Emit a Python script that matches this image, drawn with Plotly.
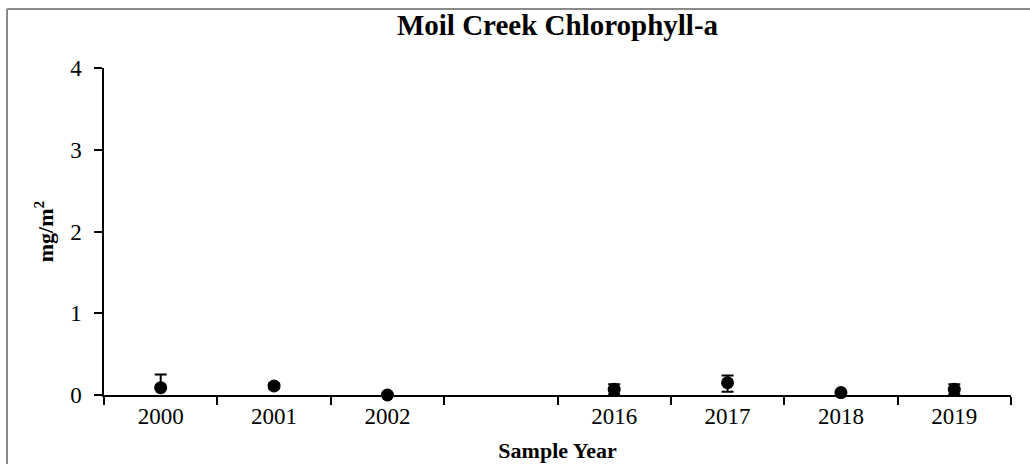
import plotly.graph_objects as go

# Year slots along the horizontal axis (one empty slot between 2002 and 2016)
years = ["2000", "2001", "2002", "", "2016", "2017", "2018", "2019"]

# Mean chlorophyll-a per sampled year (mg/m2) and error bar extents
sample_years = ["2000", "2001", "2002", "2016", "2017", "2018", "2019"]
chl_mean = [0.09, 0.11, 0.00, 0.07, 0.15, 0.03, 0.07]
err_plus = [0.16, 0.03, 0.00, 0.06, 0.09, 0.02, 0.06]
err_minus = [0.00, 0.03, 0.00, 0.06, 0.11, 0.02, 0.06]

y_ticks = [0, 1, 2, 3, 4]

serif = "Liberation Serif, Times New Roman, serif"

# slot index of each sampled year on the axis
x_pos = [years.index(y) for y in sample_years]
label_pos = [i for i, y in enumerate(years) if y]
label_txt = [y for y in years if y]
boundaries = [i - 0.5 for i in range(len(years) + 1)]

fig = go.Figure()
fig.add_trace(go.Scatter(
    x=x_pos,
    y=chl_mean,
    mode="markers",
    marker=dict(symbol="circle", size=13, color="black"),
    error_y=dict(type="data", array=err_plus, arrayminus=err_minus,
                 symmetric=False, color="black", thickness=2, width=6),
    cliponaxis=False,
    showlegend=False,
))

L, R, T, B = 104, 19, 68, 69
W, H = 1030, 464
pw, ph = W - L - R, H - T - B

fig.update_layout(
    width=W, height=H,
    margin=dict(l=L, r=R, t=T, b=B, pad=0),
    paper_bgcolor="white",
    plot_bgcolor="white",
    font=dict(family=serif, color="black", size=23),
    title=dict(text="<b>Moil Creek Chlorophyll-a</b>", x=(L + pw / 2) / W, xanchor="center",
               y=1 - 25 / H, yanchor="middle", font=dict(size=29, family=serif)),
    xaxis=dict(
        range=[-0.5, len(years) - 0.5], automargin=False,
        tickmode="array", tickvals=label_pos, ticktext=label_txt, ticks="",
        minor=dict(tickmode="array", tickvals=boundaries, ticks="outside",
                   ticklen=8, tickwidth=1.5, tickcolor="black", showgrid=False),
        showline=True, linecolor="black", linewidth=1.5,
        showgrid=False, zeroline=False,
        tickfont=dict(size=23, family=serif),
        title=dict(text="<b>Sample Year</b>", font=dict(size=22, family=serif), standoff=14),
    ),
    yaxis=dict(
        range=[0, 4], tickvals=y_ticks, automargin=False,
        ticks="outside", ticklen=8, tickwidth=1.5, tickcolor="black",
        ticklabelstandoff=8,
        showline=True, linecolor="black", linewidth=1.5,
        showgrid=False, zeroline=False,
        tickfont=dict(size=23, family=serif),
        title=dict(text="<b>mg/m<sup>2</sup></b>", font=dict(size=22, family=serif), standoff=10),
    ),
)

# Gray frame edge along the top and left of the chart area
bx = (7 - L) / pw
by = (H - B - 9) / ph
fig.add_shape(type="line", xref="paper", yref="paper", x0=bx, x1=1.3, y0=by, y1=by,
              line=dict(color="#8a8a8a", width=2))
fig.add_shape(type="line", xref="paper", yref="paper", x0=bx, x1=bx, y0=by, y1=-0.5,
              line=dict(color="#8a8a8a", width=2))

fig.write_html("out.html")
